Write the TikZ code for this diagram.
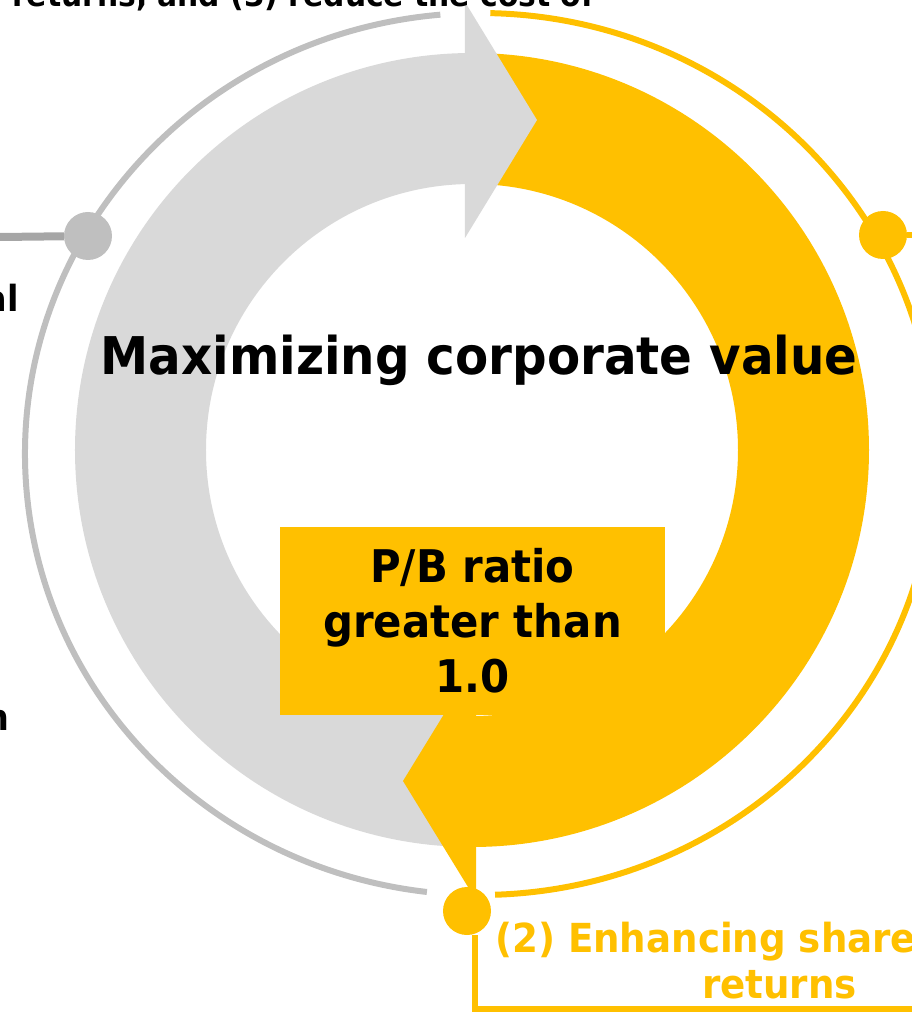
\documentclass[tikz,border=0pt]{standalone}
\usepackage{fontspec}
\setmainfont{DejaVu Sans}[FakeStretch=0.93]
\usetikzlibrary{calc}

\definecolor{kyellow}{HTML}{FFC000}
\definecolor{kgray}{HTML}{D9D9D9}
\definecolor{kring}{HTML}{BFBFBF}
\definecolor{kline}{HTML}{A6A6A6}
\newcommand{\lblfont}[2]{\fontsize{#1}{#2}\selectfont\bfseries}

\begin{document}
\begin{tikzpicture}[x=1pt,y=1pt,
  thin/.style={line width=6pt},
  dot/.style={circle,inner sep=0pt,minimum size=48pt},
  side/.style={inner sep=0pt,font=\lblfont{36}{36}}]
  \useasboundingbox (-472,-562) rectangle (440,450);
  \coordinate (oc) at (8,-4);
  % thick arrows
  \fill[kgray] (90:397) arc[start angle=90,end angle=270,radius=397]
    -- (270:266) arc[start angle=270,end angle=90,radius=266] -- cycle;
  \fill[kyellow] (-90:397) arc[start angle=-90,end angle=90,radius=397]
    -- (90:266) arc[start angle=90,end angle=-90,radius=266] -- cycle;
  \fill[kgray] (-7,448) -- (65,330) -- (-7,212) -- cycle;
  \fill[kyellow] (4,-212) -- (-69,-331) -- (4,-450) -- cycle;
  % thin ring
  \draw[kring,thin] ($(oc)+(95:455 and 441)$)
    arc[start angle=95,end angle=263.3,x radius=455,y radius=441];
  \draw[kyellow,thin] ($(oc)+(88.7:455 and 441)$)
    arc[start angle=88.7,end angle=-88.1,x radius=455,y radius=441];
  % dots and leads
  \node[dot,fill=kring] (gdot) at (-384,214) {};
  \node[dot,fill=kyellow] (ydot) at (411,215) {};
  \node[dot,fill=kyellow] (bdot) at (-5,-461) {};
  \coordinate (gend) at (-472,213);
  \coordinate (yend) at (440,215);
  \coordinate (bc) at (3,-559);
  \coordinate (br) at (440,-559);
  \draw[kline,line width=8pt] (gend) -- (gdot);
  \draw[kyellow,thin] (ydot) -- (yend);
  \draw[kyellow,thin] (bc |- bdot.south) -- (bc) -- (br);
  % texts
  \node[fill=kyellow,minimum width=385,minimum height=188,align=center,
    font=\lblfont{45}{55}] (pb) at (0.5,-171) {P/B ratio\\greater than\\1.0};
  \node[anchor=base,inner sep=0pt,font=\lblfont{52}{52}] (title) at (7,75)
    {Maximizing corporate value};
  \node[anchor=base west,inner sep=0pt,text=kyellow,font=\lblfont{40}{40}] (ret1)
    at (23,-502) {(2) Enhancing share};
  \node[anchor=base,inner sep=0pt,text=kyellow,font=\lblfont{40}{40}] (ret2)
    at (307.5,-548) {returns};
  \node[anchor=base west,inner sep=0pt,font=\lblfont{32}{32}] (top) at (-460,443)
    {returns, and (3) reduce the cost of};
  \node[side,anchor=base east] (lal) at (-453,138) {al};
  \node[side,anchor=base east] (ln) at (-462,-280) {n};
\end{tikzpicture}
\end{document}
